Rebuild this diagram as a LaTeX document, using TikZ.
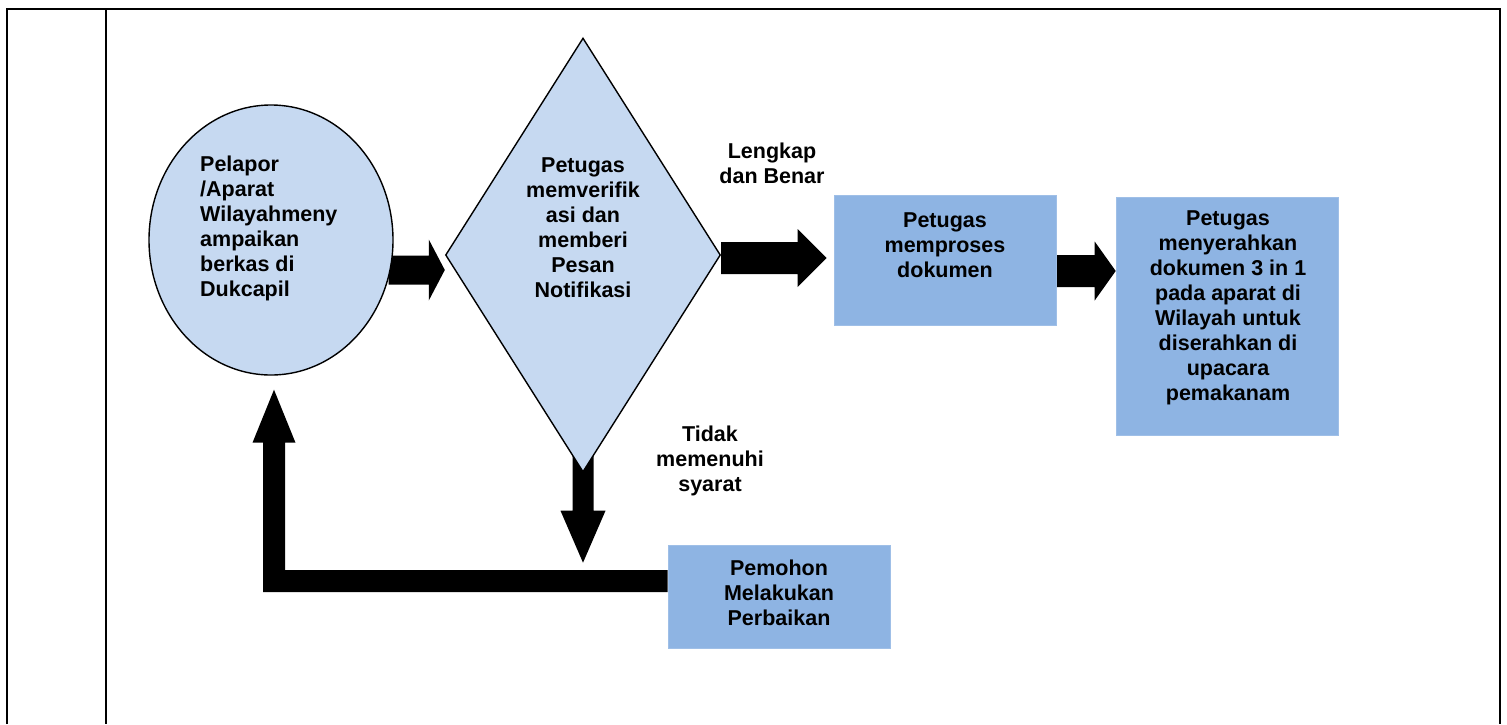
\documentclass[tikz,border=0pt]{standalone}
\usepackage{fontspec}
\setmainfont{Liberation Sans}
\usetikzlibrary{shapes.geometric,calc,backgrounds}
\definecolor{lightblue}{HTML}{C6D9F1}
\definecolor{boxblue}{HTML}{8EB4E3}
\tikzset{
  lbl/.style={font=\bfseries\fontsize{21.5}{25}\selectfont, align=center, inner sep=0pt, text=black},
  boxnode/.style={rectangle, fill=boxblue, draw=boxblue!85!white, line width=0.6pt, inner sep=0pt},
  shapeline/.style={draw=black, line width=1.4pt, fill=lightblue, inner sep=0pt},
  frame/.style={line width=2pt, line join=miter},
}
% horizontal block arrow: start, end, shaft half width, head half width, head length
\newcommand\hblock[5]{\fill let \p1=#1, \p2=#2 in
  (\x1,\y1+#3) -- (\x2-#5,\y1+#3) -- (\x2-#5,\y1+#4) -- (\x2,\y1) --
  (\x2-#5,\y1-#4) -- (\x2-#5,\y1-#3) -- (\x1,\y1-#3) -- cycle;}
% downward block arrow
\newcommand\vblock[5]{\fill let \p1=#1, \p2=#2 in
  (\x1-#3,\y1) -- (\x1-#3,\y2+#5) -- (\x1-#4,\y2+#5) -- (\x1,\y2) --
  (\x1+#4,\y2+#5) -- (\x1+#3,\y2+#5) -- (\x1+#3,\y1) -- cycle;}
\begin{document}
\begin{tikzpicture}[x=1pt,y=1pt]
\useasboundingbox (0,0) rectangle (1507,-724);
% table frame
\draw[frame] (7,-724) -- (7,-9) -- (1500,-9) -- (1500,-724);
\draw[frame] (106,-9) -- (106,-724);

% shapes
\node[ellipse, shapeline, minimum width=244, minimum height=270] (ell) at (271,-240) {};
\node[diamond, shapeline, minimum width=275, minimum height=434] (dia) at (583,-255) {};
\node[boxnode, minimum width=222, minimum height=130] (b1) at (945,-260) {};
\node[boxnode, minimum width=222, minimum height=238] (b2) at (1227,-316) {};
\node[boxnode, minimum width=222, minimum height=103] (b3) at (779,-596.5) {};

% texts
\node[lbl, align=left, anchor=north west] (t0) at (200,-156)
  {Pelapor\\/Aparat\\Wilayahmeny\\ampaikan\\berkas di\\Dukcapil};
\node[lbl] (tdia) at (583,-228)
  {Petugas\\memverifik\\asi dan\\memberi\\Pesan\\Notifikasi};
\node[lbl] (tb1) at ($(b1.center)+(0,15)$) {Petugas\\memproses\\dokumen};
\node[lbl] (tb2) at ($(b2.center)+(1,8)$)
  {Petugas\\menyerahkan\\dokumen 3 in 1\\pada aparat di\\Wilayah untuk\\diserahkan di\\upacara\\pemakanam};
\node[lbl] (tb3) at ($(b3.center)+(0,4)$) {Pemohon\\Melakukan\\Perbaikan};
\node[lbl] (lok) at (772,-163) {Lengkap\\dan Benar};
\node[lbl] (lno) at (710,-461) {Tidak\\memenuhi\\syarat};

% connectors (behind shapes)
\begin{pgfonlayer}{background}
\hblock{($(ell.east)+(-5,-30)$)}{(dia.west)}{14.5}{30.5}{16}
\hblock{($(dia.east)+(0,-3)$)}{($(b1.west)+(-7,0)$)}{16}{29}{29}
\hblock{($(b1.east)+(0,-11)$)}{(b2.west)}{16}{29.5}{21}
\vblock{($(dia.south)+(0,17)$)}{($(dia.south)+(0,-90)$)}{10.5}{22.5}{52}
\fill let \p1=($(b3.west)+(0,15.5)$), \p2=($(ell.south)+(3,-14)$) in
  (\x1,\y1+11) -- (\x2+11,\y1+11) -- (\x2+11,\y2-53) -- (\x2+21.5,\y2-53) --
  (\x2,\y2) -- (\x2-21.5,\y2-53) -- (\x2-11,\y2-53) -- (\x2-11,\y1-11) --
  (\x1,\y1-11) -- cycle;
\end{pgfonlayer}
\end{tikzpicture}
\end{document}
